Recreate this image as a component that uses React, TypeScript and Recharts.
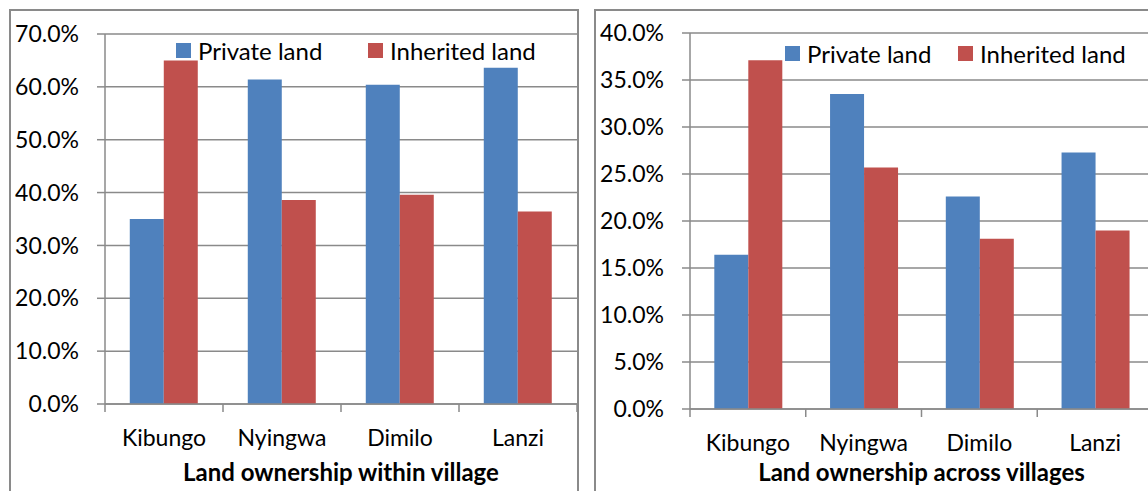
import { Bar, BarChart, CartesianGrid, Label, Legend, XAxis, YAxis } from 'recharts';

const villages = ['Kibungo', 'Nyingwa', 'Dimilo', 'Lanzi'];
const seriesNames = ['Private land', 'Inherited land'];

// within village (share of each village's land)
const withinPrivate = [35.0, 61.4, 60.4, 63.6];
const withinInherited = [65.0, 38.6, 39.6, 36.4];
const withinTicks = [0, 10, 20, 30, 40, 50, 60, 70];

// across villages (share of all land of each type)
const acrossPrivate = [16.4, 33.5, 22.6, 27.3];
const acrossInherited = [37.1, 25.7, 18.1, 19.0];
const acrossTicks = [0, 5, 10, 15, 20, 25, 30, 35, 40];

const BLUE = '#4F81BD';
const RED = '#C0504D';
const GREY = '#8a8a8a';
const FONT = 'Lato';
const TICK_SIZE = 8;
const TICK_MARGIN = 18;

const pct = (v: number) => `${v.toFixed(1)}%`;

const CatTick = (props: any) => {
  const { x, y, payload, index, visibleTicksCount, catW } = props;
  const half = catW / 2;
  const y1 = y - TICK_SIZE - TICK_MARGIN;
  const y2 = y - TICK_MARGIN;
  return (
    <g>
      <line x1={x - half} x2={x - half} y1={y1} y2={y2} stroke={GREY} strokeWidth={1.5} />
      {index === visibleTicksCount - 1 && (
        <line x1={x + half} x2={x + half} y1={y1} y2={y2} stroke={GREY} strokeWidth={1.5} />
      )}
      <text x={x} y={y} dy="0.71em" textAnchor="middle" fontSize={23} fontFamily={FONT} fill="#000">
        {payload.value}
      </text>
    </g>
  );
};

const LegendBox = ({ payload, firstWidth }: any) => {
  const items = [...(payload || [])].sort(
    (a: any, b: any) => seriesNames.indexOf(a.value) - seriesNames.indexOf(b.value)
  );
  return (
    <div style={{ display: 'flex', alignItems: 'center', fontFamily: FONT, fontSize: 24, whiteSpace: 'nowrap' }}>
      {items.map((p: any, i: number) => (
        <div key={p.value} style={{ display: 'flex', alignItems: 'center', width: i === 0 ? firstWidth : 'auto' }}>
          <span style={{ width: 15, height: 15, background: p.color, display: 'inline-block', marginRight: 7 }} />
          <span>{p.value}</span>
        </div>
      ))}
    </div>
  );
};

type PanelProps = {
  left: number;
  width: number;
  priv: number[];
  inh: number[];
  ticks: number[];
  title: string;
  yW: number;
  xH: number;
  margin: { top: number; right: number; left: number; bottom: number };
  legendLeft: number;
  legendTop: number;
  legendFirst: number;
};

const Panel = (p: PanelProps) => {
  const data = villages.map((v, i) => ({ name: v, priv: p.priv[i], inh: p.inh[i] }));
  const catW = (p.width - p.yW - p.margin.left - p.margin.right) / villages.length;
  return (
    <div style={{ position: 'absolute', left: p.left, top: 0 }}>
      <BarChart
        width={p.width}
        height={491}
        data={data}
        margin={p.margin}
        barCategoryGap="21%"
        barGap={0}
      >
        <CartesianGrid vertical={false} stroke={GREY} strokeWidth={1.5} />
        <XAxis
          dataKey="name"
          height={p.xH}
          tickSize={TICK_SIZE}
          tickMargin={TICK_MARGIN}
          tickLine={false}
          axisLine={{ stroke: GREY, strokeWidth: 1.5 }}
          interval={0}
          tick={<CatTick catW={catW} />}
        >
          <Label
            value={p.title}
            position="insideBottom"
            offset={0}
            style={{ fontFamily: FONT, fontSize: 24, fontWeight: 700, fill: '#000' }}
          />
        </XAxis>
        <YAxis
          width={p.yW}
          domain={[0, p.ticks[p.ticks.length - 1]]}
          ticks={p.ticks}
          tickFormatter={pct}
          tickSize={TICK_SIZE}
          tickMargin={18}
          interval={0}
          axisLine={{ stroke: GREY, strokeWidth: 1.5 }}
          tickLine={{ stroke: GREY, strokeWidth: 1.5 }}
          tick={{ fill: '#000', fontSize: 23, fontFamily: FONT }}
        />
        <Legend
          layout="horizontal"
          verticalAlign="middle"
          align="center"
          wrapperStyle={{ left: p.legendLeft, top: p.legendTop, width: 'auto', height: 28 }}
          content={(lp: any) => <LegendBox payload={lp.payload} firstWidth={p.legendFirst} />}
        />
        <Bar dataKey="priv" name={seriesNames[0]} fill={BLUE} isAnimationActive={false} />
        <Bar dataKey="inh" name={seriesNames[1]} fill={RED} isAnimationActive={false} />
      </BarChart>
    </div>
  );
};

export default function App() {
  return (
    <div
      style={{
        position: 'absolute',
        left: 0,
        top: 0,
        width: 1148,
        height: 491,
        overflow: 'hidden',
        background: '#fff',
      }}
    >
      <div
        style={{
          position: 'absolute',
          left: 9,
          top: 9,
          width: 570,
          height: 600,
          border: `2px solid ${GREY}`,
          boxSizing: 'border-box',
        }}
      />
      <div
        style={{
          position: 'absolute',
          left: 594,
          top: 9,
          width: 700,
          height: 600,
          border: `2px solid ${GREY}`,
          boxSizing: 'border-box',
        }}
      />
      <Panel
        left={0}
        width={580}
        priv={withinPrivate}
        inh={withinInherited}
        ticks={withinTicks}
        title="Land ownership within village"
        yW={105}
        xH={77}
        margin={{ top: 34, right: 3, left: 0, bottom: 10 }}
        legendLeft={176}
        legendTop={36}
        legendFirst={192}
      />
      <Panel
        left={580}
        width={600}
        priv={acrossPrivate}
        inh={acrossInherited}
        ticks={acrossTicks}
        title="Land ownership across villages"
        yW={110}
        xH={72}
        margin={{ top: 33, right: 27, left: 0, bottom: 10 }}
        legendLeft={205}
        legendTop={39}
        legendFirst={173}
      />
    </div>
  );
}
